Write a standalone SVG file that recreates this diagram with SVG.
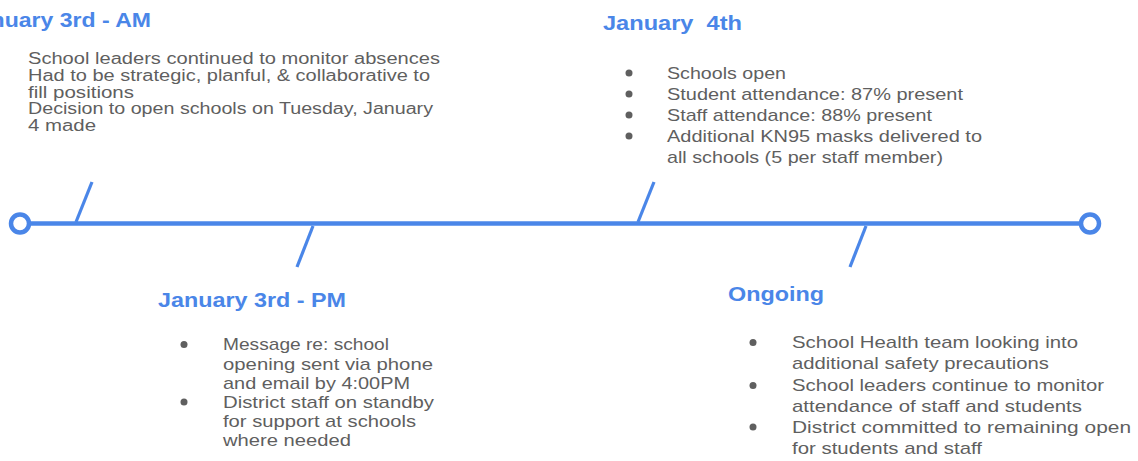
<svg xmlns="http://www.w3.org/2000/svg" width="1138" height="461" viewBox="0 0 1138 461">
<style>
.title{font-family:"Liberation Sans",Arial,sans-serif;font-weight:bold;font-size:20px;fill:#4a86e8}
.body{font-family:"Liberation Sans",Arial,sans-serif;font-size:17px;fill:#5f5f5f}
.small{font-size:16px}
.bullet{fill:#5f5f5f}
.tl{stroke:#4a86e8;stroke-width:4.5;fill:none}
.tick{stroke:#4a86e8;stroke-width:3.2;fill:none}
.end{stroke:#4a86e8;stroke-width:4.5;fill:#ffffff}
</style>
<rect width="1138" height="461" fill="#ffffff"/>
<g id="connectors">
<line class="tl" x1="20" y1="223.5" x2="1090" y2="223.5"/>
<line class="tick" x1="76" y1="222" x2="92" y2="182"/>
<line class="tick" x1="313" y1="226" x2="297" y2="267"/>
<line class="tick" x1="638" y1="222" x2="654" y2="182"/>
<line class="tick" x1="866" y1="226" x2="850" y2="267"/>
<circle class="end" cx="20" cy="223.5" r="9"/>
<circle class="end" cx="1090" cy="223.5" r="9"/>
</g>
<g id="jan3am">
<text class="title" x="-35" y="27" textLength="186" lengthAdjust="spacingAndGlyphs">January 3rd - AM</text>
<text class="body small" x="28" y="64" textLength="412" lengthAdjust="spacingAndGlyphs">School leaders continued to monitor absences</text>
<text class="body small" x="28" y="81" textLength="402" lengthAdjust="spacingAndGlyphs">Had to be strategic, planful, &amp; collaborative to</text>
<text class="body small" x="28" y="97.5" textLength="106" lengthAdjust="spacingAndGlyphs">fill positions</text>
<text class="body small" x="28" y="114" textLength="405" lengthAdjust="spacingAndGlyphs">Decision to open schools on Tuesday, January</text>
<text class="body small" x="28" y="131" textLength="68" lengthAdjust="spacingAndGlyphs">4 made</text>
</g>
<g id="jan4">
<text class="title" x="603" y="30" textLength="139" lengthAdjust="spacingAndGlyphs" xml:space="preserve">January  4th</text>
<circle class="bullet" cx="629" cy="73" r="3.5"/>
<circle class="bullet" cx="629" cy="94" r="3.5"/>
<circle class="bullet" cx="629" cy="115" r="3.5"/>
<circle class="bullet" cx="629" cy="136" r="3.5"/>
<text class="body" x="667" y="79" textLength="119" lengthAdjust="spacingAndGlyphs">Schools open</text>
<text class="body" x="667" y="100" textLength="296" lengthAdjust="spacingAndGlyphs">Student attendance: 87% present</text>
<text class="body" x="667" y="121" textLength="265" lengthAdjust="spacingAndGlyphs">Staff attendance: 88% present</text>
<text class="body" x="667" y="142" textLength="315" lengthAdjust="spacingAndGlyphs">Additional KN95 masks delivered to</text>
<text class="body" x="667" y="163" textLength="276" lengthAdjust="spacingAndGlyphs">all schools (5 per staff member)</text>
</g>
<g id="jan3pm">
<text class="title" x="158" y="307" textLength="188" lengthAdjust="spacingAndGlyphs">January 3rd - PM</text>
<circle class="bullet" cx="184" cy="344.5" r="3.5"/>
<circle class="bullet" cx="184" cy="402" r="3.5"/>
<text class="body" x="223" y="350" textLength="166" lengthAdjust="spacingAndGlyphs">Message re: school</text>
<text class="body" x="223" y="369.5" textLength="210" lengthAdjust="spacingAndGlyphs">opening sent via phone</text>
<text class="body" x="223" y="388.5" textLength="187" lengthAdjust="spacingAndGlyphs">and email by 4:00PM</text>
<text class="body" x="223" y="408" textLength="211" lengthAdjust="spacingAndGlyphs">District staff on standby</text>
<text class="body" x="223" y="427" textLength="193" lengthAdjust="spacingAndGlyphs">for support at schools</text>
<text class="body" x="223" y="446" textLength="128" lengthAdjust="spacingAndGlyphs">where needed</text>
</g>
<g id="ongoing">
<text class="title" x="728" y="301" textLength="96" lengthAdjust="spacingAndGlyphs">Ongoing</text>
<circle class="bullet" cx="753" cy="342.5" r="3.5"/>
<circle class="bullet" cx="753" cy="385.5" r="3.5"/>
<circle class="bullet" cx="753" cy="427" r="3.5"/>
<text class="body" x="792" y="348" textLength="286" lengthAdjust="spacingAndGlyphs">School Health team looking into</text>
<text class="body" x="792" y="369" textLength="257" lengthAdjust="spacingAndGlyphs">additional safety precautions</text>
<text class="body" x="792" y="391" textLength="312" lengthAdjust="spacingAndGlyphs">School leaders continue to monitor</text>
<text class="body" x="792" y="412" textLength="290" lengthAdjust="spacingAndGlyphs">attendance of staff and students</text>
<text class="body" x="792" y="433" textLength="339" lengthAdjust="spacingAndGlyphs">District committed to remaining open</text>
<text class="body" x="792" y="454" textLength="190" lengthAdjust="spacingAndGlyphs">for students and staff</text>
</g>
</svg>
